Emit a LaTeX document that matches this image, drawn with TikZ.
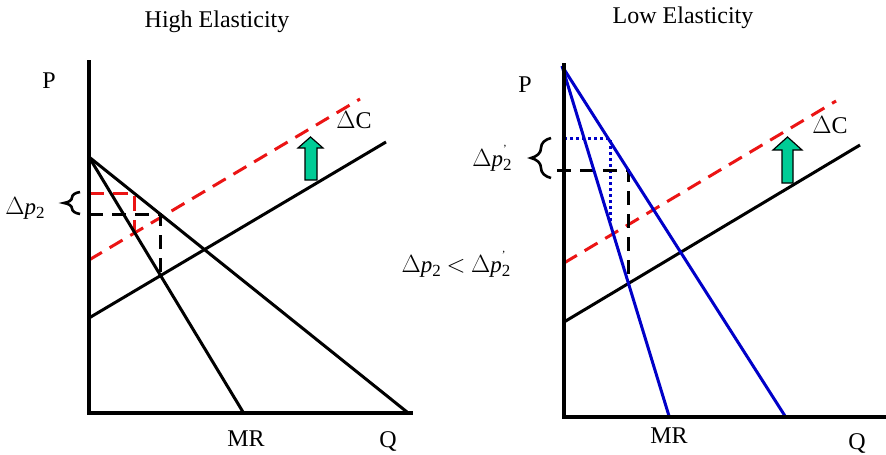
\documentclass[tikz,border=0pt]{standalone}
\usepackage{fontspec}
\setmainfont{Liberation Serif}
\usetikzlibrary{decorations.pathreplacing}
\definecolor{mcred}{RGB}{235,20,20}
\definecolor{dblue}{RGB}{0,0,200}
\definecolor{arrgreen}{RGB}{0,204,150}
\newcommand{\dpt}{$\Delta$\textit{p}\raisebox{-0.4ex}{\fontsize{17}{19}\selectfont 2}}
\newcommand{\dptp}{$\Delta$\textit{p}\rlap{\raisebox{1.3ex}{\fontsize{11}{12}\selectfont '}}\raisebox{-0.4ex}{\fontsize{17}{19}\selectfont 2}}
\begin{document}
\begin{tikzpicture}[x=1pt,y=-1pt,
  axisline/.style={line width=3.2pt, line cap=rect},
  blk/.style={line width=3pt},
  blu/.style={line width=3pt, draw=dblue},
  reddash/.style={line width=3pt, draw=mcred, dash pattern=on 15pt off 9pt},
  blkdash/.style={line width=3pt, dash pattern=on 14pt off 9pt},
  bludot/.style={line width=3pt, draw=dblue, dash pattern=on 3pt off 3pt},
  lbl/.style={font=\fontsize{24}{27}\selectfont, inner sep=0pt},
  dplbl/.style={font=\fontsize{23}{26}\selectfont, inner sep=0pt},
  dc/.style={font=\fontsize{24}{26}\selectfont, inner sep=0pt},
  upar/.style={fill=arrgreen, draw=black, line width=1.2pt, line join=miter},
  bracestyle/.style={line width=2.6pt, decorate}
]
\useasboundingbox (0,0) rectangle (886,455);

% ---------- Left graph ----------
\coordinate (LT) at (89,62);
\coordinate (LO) at (89,413);
\coordinate (LX) at (411,413);
\coordinate (LA) at (89,157);
\coordinate (LD) at (407,412);
\coordinate (LM) at (243,412);
\coordinate (LS1) at (89,318);
\coordinate (LS2) at (386,142);
\coordinate (LC1) at (89,260);
\coordinate (LC2) at (360,99);
\coordinate (LR1) at (89,193);
\coordinate (LR2) at (134,193);
\coordinate (LR3) at (134,232);
\coordinate (LB1) at (89,214);
\coordinate (LB2) at (160,214);
\coordinate (LB3) at (160,275);

\draw[reddash] (LC1) -- (LC2);
\draw[reddash] (LR1) -- (LR2) -- (LR3);
\draw[blkdash] (LB1) -- (LB2) -- (LB3);
\draw[blk] (LA) -- (LD);
\draw[blk] (LA) -- (LM);
\draw[blk] (LS1) -- (LS2);
\draw[axisline] (LT) -- (LO) -- (LX);

\draw[upar] (305,180) -- (305,148) -- (298,148) -- (310.5,137) -- (323,148) -- (317,148) -- (317,180) -- cycle;

\node[lbl] (ltitle) at (217,22) {High Elasticity};
\node[lbl] (lP) at (49,81) {P};
\node[lbl] (lMR) at (246,439) {MR};
\node[lbl] (lQ) at (388,441) {Q};
\node[dc] (ldc) at (354,120) {$\Delta$C};
\node[dplbl] (ldp) at (25,208) {\dpt};
\draw[bracestyle, decoration={brace, amplitude=16pt}] (80,214) -- (80,192);

% ---------- Right graph ----------
\coordinate (RT) at (564,65);
\coordinate (RO) at (564,417);
\coordinate (RX) at (886,417);
\coordinate (RA) at (562,66);
\coordinate (RD) at (785,416);
\coordinate (RM) at (669,416);
\coordinate (RS1) at (564,322);
\coordinate (RS2) at (860,145);
\coordinate (RC1) at (564,263);
\coordinate (RC2) at (836,101);
\coordinate (RB1) at (564,138);
\coordinate (RB2) at (610,138);
\coordinate (RB3) at (610,224);
\coordinate (RK1) at (557,170);
\coordinate (RK2) at (628,170);
\coordinate (RK3) at (628,283);

\draw[reddash] (RC1) -- (RC2);
\draw[bludot] (RB1) -- (RB2) -- (RB3);
\draw[blkdash] (RK1) -- (RK2) -- (RK3);
\draw[blk] (RS1) -- (RS2);
\draw[blu] (RA) -- (RD);
\draw[blu] (RA) -- (RM);
\draw[axisline] (RT) -- (RO) -- (RX);

\draw[upar] (782,183) -- (782,150) -- (773,150) -- (787.5,137) -- (802,150) -- (793,150) -- (793,183) -- cycle;

\node[lbl] (rtitle) at (683,18) {Low Elasticity};
\node[lbl] (rP) at (525,85) {P};
\node[lbl] (rMR) at (669,436) {MR};
\node[lbl] (rQ) at (857,443) {Q};
\node[dc] (rdc) at (830,125) {$\Delta$C};
\node[dplbl] (rdp) at (492,158) {\dptp};
\draw[bracestyle, decoration={brace, amplitude=20pt}] (551,178) -- (551,138);

\node[dplbl] (mid) at (456,264) {\dpt\ $<$ \dptp};
\end{tikzpicture}
\end{document}
